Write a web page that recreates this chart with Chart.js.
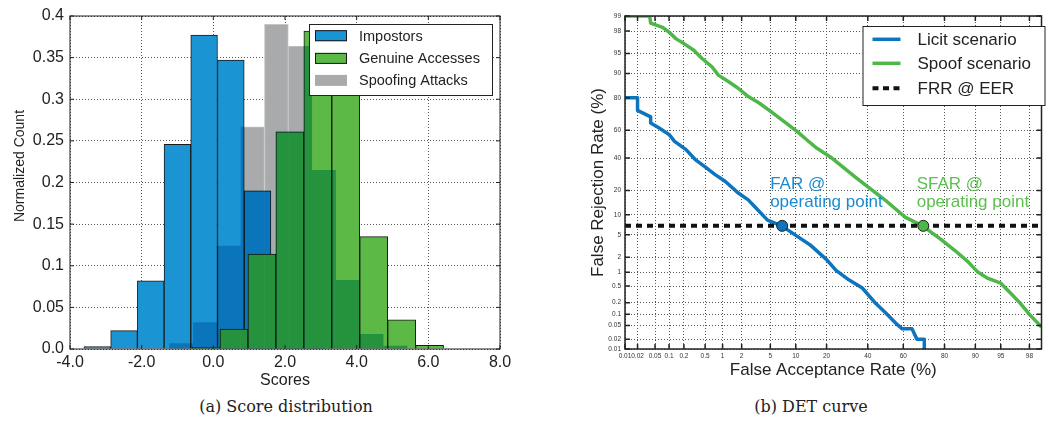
<!DOCTYPE html>
<html>
<head>
<meta charset="utf-8">
<script src="https://cdn.jsdelivr.net/npm/chart.js@4.4.0/dist/chart.umd.min.js"></script>
<style>
  body { margin: 0; background: #fff; }
  #wrap { position: relative; width: 1048px; height: 430px; overflow: hidden; }
  .pane { position: absolute; top: 0; width: 524px; height: 392px; }
  #left { left: 0; }
  #right { left: 524px; }
  .cap { position: absolute; top: 397px; width: 524px; text-align: center;
         font-family: "DejaVu Serif", serif; font-size: 16px; color: #222; }
</style>
</head>
<body>
<div id="wrap">
  <div class="pane" id="left"><canvas id="hist" width="524" height="392"></canvas></div>
  <div class="pane" id="right"><canvas id="det" width="524" height="392"></canvas></div>
  <div class="cap" style="left: 24px">(a) Score distribution</div>
  <div class="cap" style="left: 549px">(b) DET curve</div>
</div>
<script>
// ---- (a) score histograms: bin centres, normalized counts, bin widths
const impostorCenters = [-3.237, -2.492, -1.747, -1.002, -0.257, 0.489, 1.234, 1.979, 2.724];
const impostorCounts  = [0.003, 0.022, 0.082, 0.246, 0.377, 0.347, 0.19, 0.058, 0.011];
const impostorBin = 0.745;

const genuineCenters = [-0.204, 0.576, 1.356, 2.136, 2.916, 3.696, 4.476, 5.256, 6.036];
const genuineCounts  = [0.002, 0.024, 0.114, 0.261, 0.382, 0.33, 0.135, 0.035, 0.0045];
const genuineBin = 0.78;

const spoofCenters = [-0.897, -0.233, 0.431, 1.095, 1.759, 2.423, 3.087, 3.751, 4.415, 5.079];
const spoofCounts  = [0.0068, 0.032, 0.124, 0.267, 0.39, 0.364, 0.215, 0.083, 0.018, 0.004];
const spoofBin = 0.664;

const histLabels = ['Impostors', 'Genuine Accesses', 'Spoofing Attacks'];

// ---- (b) DET curves, values in %
const licitFar = [0.01, 0.02, 0.02, 0.04, 0.04, 0.058, 0.1, 0.13, 0.22, 0.33, 0.5, 0.75, 1.1, 1.8, 2.5, 3.1,
  4.6, 6.9, 10.4, 14, 20, 24, 30, 37, 44.5, 50, 55.7, 59.4, 64.7, 67.3, 71, 71];
const licitFrr = [80, 80, 73, 69, 65, 62, 57, 52, 46, 39, 34, 29, 25, 18.6, 15.6, 12.8,
  8.4, 6.9, 4.7, 3.4, 1.8, 1.1, 0.69, 0.45, 0.19, 0.11, 0.058, 0.04, 0.04, 0.02, 0.02, 0.01];
const spoofFar = [0.01, 0.038, 0.04, 0.073, 0.1, 0.14, 0.2, 0.31, 0.44, 0.66, 0.85, 1.24, 1.77, 2.5, 3.6, 5.1,
  7.4, 10.4, 13.1, 16.4, 21.4, 33.8, 50.7, 61.2, 70.1, 78.8, 83.8, 88, 90.5, 92.7, 95, 96.3, 97.3, 98, 98.7];
const spoofFrr = [99, 99, 98.6, 98.3, 97.9, 97.2, 96.6, 95.6, 94, 92, 89.5, 87.2, 84.5, 80.6, 77.1, 72.2,
  65.8, 59, 53, 47, 41, 27, 14.9, 9.2, 6.9, 4.1, 2.7, 1.65, 1.03, 0.75, 0.58, 0.34, 0.19, 0.1, 0.045];
const frrAtEer = 6.9;
const farOperating = 7.0;
const sfarOperating = 70.5;
const detLabels = ['Licit scenario', 'Spoof scenario', 'FRR @ EER'];
const detXTicks = [0.01, 0.02, 0.05, 0.1, 0.2, 0.5, 1, 2, 5, 10, 20, 40, 60, 80, 90, 95, 98];
const detYTicks = [0.01, 0.02, 0.05, 0.1, 0.2, 0.5, 1, 2, 5, 10, 20, 40, 60, 80, 90, 95, 98, 99];
const detXRange = [0.01, 98.7];
const detYRange = [0.01, 99];

const BLUE = '#1b94d4', GREEN = '#5cb946', GRAY = '#a8aaac';
const SHADE = 'rgb(102, 202, 226)';   // how gray darkens the coloured bars behind it
const LICIT = '#0d74bd', SPOOF = '#4db748';
const FONT = '"Liberation Sans", Arial, sans-serif';

Chart.defaults.font.family = FONT;
Chart.defaults.color = '#222';

// normal deviate (Acklam's approximation)
function probit(p) {
  const a = [-39.69683028665376, 220.9460984245205, -275.9285104469687, 138.3577518672690, -30.66479806614716, 2.506628277459239];
  const b = [-54.47609879822406, 161.5858368580409, -155.6989798598866, 66.80131188771972, -13.28068155288572];
  const c = [-0.007784894002430293, -0.3223964580411365, -2.400758277161838, -2.549732539343734, 4.374664141464968, 2.938163982698783];
  const d = [0.007784695709041462, 0.3224671290700398, 2.445134137142996, 3.754408661907416];
  const lo = 0.02425;
  let q, r;
  if (p < lo) {
    q = Math.sqrt(-2 * Math.log(p));
    return (((((c[0]*q+c[1])*q+c[2])*q+c[3])*q+c[4])*q+c[5]) / ((((d[0]*q+d[1])*q+d[2])*q+d[3])*q+1);
  }
  if (p <= 1 - lo) {
    q = p - 0.5; r = q * q;
    return (((((a[0]*r+a[1])*r+a[2])*r+a[3])*r+a[4])*r+a[5])*q / (((((b[0]*r+b[1])*r+b[2])*r+b[3])*r+b[4])*r+1);
  }
  q = Math.sqrt(-2 * Math.log(1 - p));
  return -(((((c[0]*q+c[1])*q+c[2])*q+c[3])*q+c[4])*q+c[5]) / ((((d[0]*q+d[1])*q+d[2])*q+d[3])*q+1);
}
const pz = v => probit(v / 100);

function hist(centers, counts) {
  return centers.map((x, i) => ({ x: x, y: counts[i] }));
}
function binWidth(w) {
  return function(c) {
    const s = c.chart.scales.x;
    if (!s) return 10;
    return Math.abs(s.getPixelForValue(w) - s.getPixelForValue(0));
  };
}
function barRect(el) {
  const p = el.getProps(['x', 'y', 'base', 'width'], true);
  return [p.x - p.width / 2, Math.min(p.y, p.base), p.width, Math.abs(p.base - p.y)];
}

// where the gray bars sit over blue/green ones, darken those (multiply)
const overlap = {
  id: 'overlap',
  afterDatasetsDraw(chart) {
    const ctx = chart.ctx;
    const grays = chart.getDatasetMeta(2).data;
    const cols = chart.getDatasetMeta(0).data.concat(chart.getDatasetMeta(1).data);
    ctx.save();
    ctx.globalCompositeOperation = 'multiply';
    ctx.fillStyle = SHADE;
    grays.forEach(g => {
      ctx.save();
      ctx.beginPath();
      ctx.rect(...barRect(g));
      ctx.clip();
      ctx.beginPath();
      cols.forEach(o => ctx.rect(...barRect(o)));
      ctx.fill();
      ctx.restore();
    });
    ctx.restore();
  }
};

function drawFrame(chart, len, lw) {
  const ctx = chart.ctx, a = chart.chartArea;
  ctx.save();
  ctx.strokeStyle = '#222';
  ctx.lineWidth = lw;
  ctx.strokeRect(a.left, a.top, a.right - a.left, a.bottom - a.top);
  ctx.beginPath();
  chart.scales.x.ticks.forEach(t => {
    const x = chart.scales.x.getPixelForValue(t.value);
    ctx.moveTo(x, a.bottom); ctx.lineTo(x, a.bottom - len);
    ctx.moveTo(x, a.top); ctx.lineTo(x, a.top + len);
  });
  chart.scales.y.ticks.forEach(t => {
    const y = chart.scales.y.getPixelForValue(t.value);
    ctx.moveTo(a.left, y); ctx.lineTo(a.left + len, y);
    ctx.moveTo(a.right, y); ctx.lineTo(a.right - len, y);
  });
  ctx.stroke();
  ctx.restore();
}

const histDecor = {
  id: 'histDecor',
  afterDraw(chart) {
    const ctx = chart.ctx, a = chart.chartArea;
    drawFrame(chart, 4, 1);
    ctx.save();
    // y title
    ctx.translate(20, 166);
    ctx.rotate(-Math.PI / 2);
    ctx.font = '14px ' + FONT;
    ctx.fillStyle = '#222';
    ctx.textAlign = 'center';
    ctx.textBaseline = 'middle';
    ctx.fillText('Normalized Count', 0, 0);
    ctx.restore();
    // legend
    const bx = a.right - 191, by = a.top + 8;
    ctx.save();
    ctx.fillStyle = '#fff';
    ctx.fillRect(bx, by, 183, 71);
    ctx.strokeStyle = '#222';
    ctx.lineWidth = 1;
    ctx.strokeRect(bx + 0.5, by + 0.5, 183, 71);
    const fills = [BLUE, GREEN, GRAY];
    const rows = [11.7, 34.4, 56.4];
    ctx.font = '14.5px ' + FONT;
    ctx.textBaseline = 'middle';
    histLabels.forEach((t, i) => {
      const y = by + rows[i];
      ctx.fillStyle = fills[i];
      ctx.fillRect(bx + 6, y - 5.5, 32, 11);
      if (i < 2) {
        ctx.strokeStyle = '#1a1a1a';
        ctx.strokeRect(bx + 6.5, y - 5, 31, 10);
      }
      ctx.fillStyle = '#222';
      ctx.fillText(t, bx + 50, y + 1);
    });
    ctx.restore();
  }
};

new Chart(document.getElementById('hist'), {
  type: 'bar',
  data: {
    datasets: [
      { label: histLabels[0], data: hist(impostorCenters, impostorCounts), backgroundColor: BLUE,
        borderColor: '#1a1a1a', borderWidth: 1, barThickness: binWidth(impostorBin), order: 1 },
      { label: histLabels[1], data: hist(genuineCenters, genuineCounts), backgroundColor: GREEN,
        borderColor: '#1a1a1a', borderWidth: 1, barThickness: binWidth(genuineBin), order: 0 },
      { label: histLabels[2], data: hist(spoofCenters, spoofCounts), backgroundColor: GRAY,
        borderColor: '#c4c6c8', borderWidth: 1, barThickness: binWidth(spoofBin), order: 2 }
    ]
  },
  options: {
    responsive: false,
    animation: false,
    grouped: false,
    layout: { padding: { top: 16, right: 24, left: 0, bottom: 0 } },
    plugins: { legend: { display: false }, tooltip: { enabled: false } },
    scales: {
      x: {
        type: 'linear', min: -4, max: 8, offset: false, z: 1,
        grid: { offset: false, color: '#555', drawTicks: false },
        border: { display: false, dash: [1, 2] },
        ticks: { stepSize: 2, padding: 4, font: { size: 16 }, callback: v => v.toFixed(1) },
        title: { display: true, text: 'Scores', font: { size: 16 }, padding: { top: 0, bottom: 2 } },
        afterFit: s => { s.height = 43; }
      },
      y: {
        min: 0, max: 0.4, z: 1,
        grid: { color: '#555', drawTicks: false },
        border: { display: false, dash: [1, 2] },
        ticks: { stepSize: 0.05, padding: 6, font: { size: 16 },
          callback: v => v === 0 ? '0.0' : String(Math.round(v * 100) / 100) },
        afterFit: s => { s.width = 70; }
      }
    }
  },
  plugins: [overlap, histDecor]
});

// ---- (b)
const detDecor = {
  id: 'detDecor',
  afterDraw(chart) {
    const ctx = chart.ctx, a = chart.chartArea;
    drawFrame(chart, 5, 1.5);
    // annotations
    const yEer = chart.scales.y.getPixelForValue(pz(frrAtEer));
    const xFar = chart.scales.x.getPixelForValue(pz(farOperating));
    const xSfar = chart.scales.x.getPixelForValue(pz(sfarOperating));
    ctx.save();
    ctx.font = '17px ' + FONT;
    ctx.textBaseline = 'middle';
    ctx.fillStyle = '#1a8bd2';
    ctx.fillText('FAR @', xFar - 12, yEer - 41.5);
    ctx.fillText('operating point', xFar - 12, yEer - 24);
    ctx.fillStyle = '#5cbf4e';
    ctx.fillText('SFAR @', xSfar - 6.6, yEer - 41.5);
    ctx.fillText('operating point', xSfar - 6.6, yEer - 24);
    // legend
    const bx = a.right - 179, by = a.top + 10;
    ctx.fillStyle = '#fff';
    ctx.fillRect(bx, by, 182, 79);
    ctx.strokeStyle = '#222';
    ctx.lineWidth = 1;
    ctx.strokeRect(bx + 0.5, by + 0.5, 182, 79);
    const rows = [13.3, 37.3, 62.3];
    const cols = [LICIT, SPOOF, '#111'];
    detLabels.forEach((t, i) => {
      const y = by + rows[i];
      ctx.beginPath();
      ctx.strokeStyle = cols[i];
      ctx.lineWidth = i < 2 ? 3.5 : 4;
      ctx.setLineDash(i < 2 ? [] : [6, 4.5]);
      ctx.moveTo(bx + 10, y);
      ctx.lineTo(bx + 38, y);
      ctx.stroke();
      ctx.setLineDash([]);
      ctx.fillStyle = '#222';
      ctx.fillText(t, bx + 55, y + 1);
    });
    ctx.restore();
  }
};

function curve(xs, ys) {
  return xs.map((x, i) => ({ x: pz(x), y: pz(ys[i]) }));
}

function detAxis(list, range, extra) {
  return Object.assign({
    type: 'linear',
    min: pz(range[0]),
    max: pz(range[1]),
    grid: { color: '#555', drawTicks: false },
    border: { display: false, dash: [1, 2] },
    afterBuildTicks: s => { s.ticks = list.map(p => ({ value: pz(p) })); },
  }, extra);
}

new Chart(document.getElementById('det'), {
  type: 'scatter',
  data: {
    datasets: [
      { label: 'operating points', data: [{ x: pz(farOperating), y: pz(frrAtEer) }, { x: pz(sfarOperating), y: pz(frrAtEer) }],
        pointRadius: 5.5, pointBackgroundColor: [LICIT, SPOOF], pointBorderColor: '#1d1d1d', pointBorderWidth: 1, order: 0 },
      { label: detLabels[2], data: [{ x: pz(detXRange[0]), y: pz(frrAtEer) }, { x: pz(detXRange[1]), y: pz(frrAtEer) }],
        showLine: true, pointRadius: 0, borderColor: '#111', borderWidth: 4, borderDash: [6, 5], order: 1 },
      { label: detLabels[0], data: curve(licitFar, licitFrr), showLine: true, pointRadius: 0,
        borderColor: LICIT, borderWidth: 3.5, borderJoinStyle: 'round', order: 2 },
      { label: detLabels[1], data: curve(spoofFar, spoofFrr), showLine: true, pointRadius: 0,
        borderColor: SPOOF, borderWidth: 3.5, borderJoinStyle: 'round', order: 3 }
    ]
  },
  options: {
    responsive: false,
    animation: false,
    layout: { padding: { top: 16, right: 0, left: 0, bottom: 0 } },
    plugins: { legend: { display: false }, tooltip: { enabled: false } },
    scales: {
      x: detAxis(detXTicks, detXRange, {
        ticks: { autoSkip: false, maxRotation: 0, padding: 3, font: { size: 6.5 }, color: '#333',
          callback: (v, i) => String(detXTicks[i]) },
        title: { display: true, text: 'False Acceptance Rate (%)', font: { size: 17 }, padding: { top: 0, bottom: 11 } },
        afterFit: s => { s.height = 43; }
      }),
      y: detAxis(detYTicks, detYRange, {
        ticks: { autoSkip: false, padding: 4, font: { size: 6.5 }, color: '#333',
          callback: (v, i) => String(detYTicks[i]) },
        title: { display: true, text: 'False Rejection Rate (%)', font: { size: 17 }, padding: { top: 64, bottom: 0 } },
        afterFit: s => { s.width = 101; }
      })
    }
  },
  plugins: [detDecor]
});
</script>
</body>
</html>
